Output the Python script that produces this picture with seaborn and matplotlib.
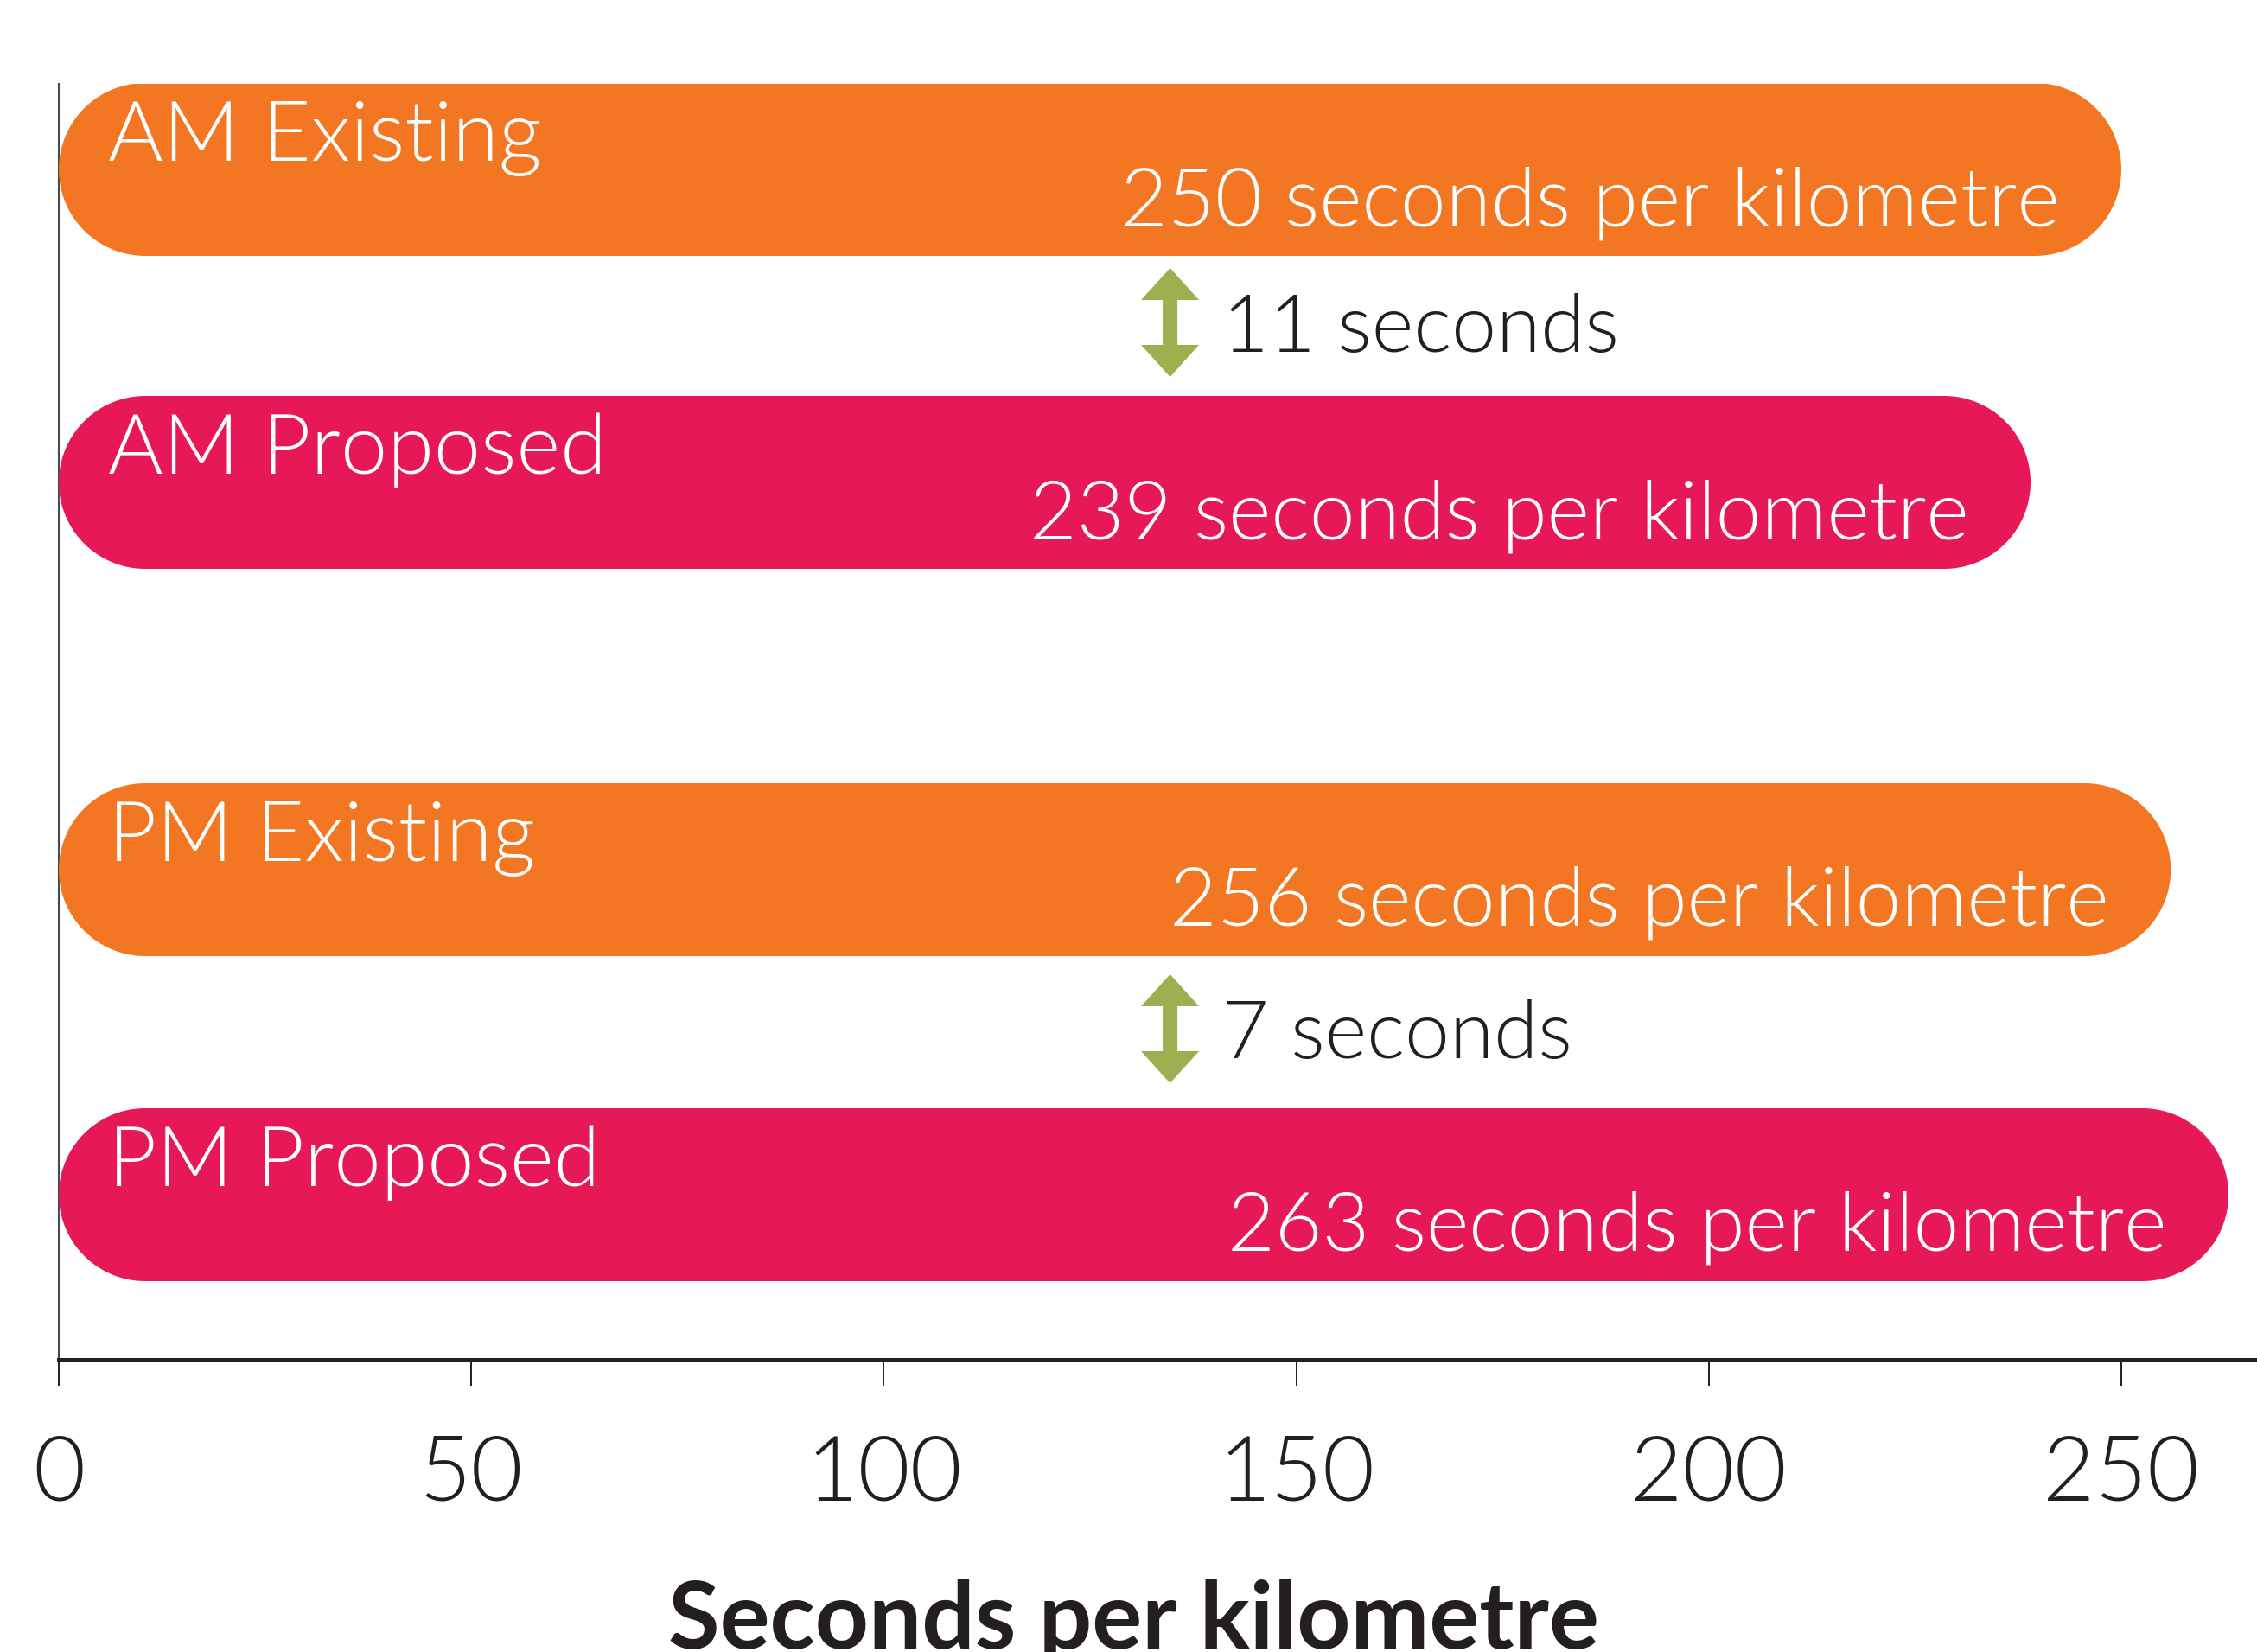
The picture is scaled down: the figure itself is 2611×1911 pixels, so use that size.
"""
plot.py
Travel time per kilometre, existing vs proposed, AM and PM peaks.
"""

import matplotlib
matplotlib.use("Agg")
import matplotlib.pyplot as plt
from matplotlib.patches import Polygon, FancyArrow
import numpy as np
import pandas as pd
import seaborn as sns

# --- data -------------------------------------------------------------
periods = ["AM", "AM", "PM", "PM"]
scenarios = ["Existing", "Proposed", "Existing", "Proposed"]
seconds_per_km = [250, 239, 256, 263]
x_ticks = [0, 50, 100, 150, 200, 250]

# --- styling / layout ---------------------------------------------------
COLORS = {"Existing": "#F37623", "Proposed": "#E61855"}
ARROW_COLOR = "#9BB14F"
TEXT_DARK = "#231F20"
LIGHT = 300  # Lato Light

W, H = 2611, 1911
AX_LEFT, AX_TOP, AX_BOTTOM = 68, 97, 1573      # pixels
ROW_CENTERS = [196, 558, 1006, 1382]             # vertical layout units (= pixels)
BAR_HEIGHT = 200
X_MAX = (W - AX_LEFT) / 9.544

sns.set_style("white")
plt.rcParams["font.family"] = ["Lato", "DejaVu Sans"]

fig = plt.figure(figsize=(W / 100, H / 100), dpi=100)
ax = fig.add_axes([AX_LEFT / W, 1 - AX_BOTTOM / H, 1 - AX_LEFT / W, (AX_BOTTOM - AX_TOP) / H])

df = pd.DataFrame({
    "label": [f"{p} {s}" for p, s in zip(periods, scenarios)],
    "scenario": scenarios,
    "value": seconds_per_km,
    "pos": ROW_CENTERS,
})

spacing = np.min(np.diff(ROW_CENTERS))
sns.barplot(data=df, x="value", y="pos", hue="scenario", palette=COLORS,
            orient="h", native_scale=True, width=BAR_HEIGHT / spacing,
            dodge=False, legend=False, saturation=1, ax=ax)

ax.set_xlim(0, X_MAX)
ax.set_ylim(AX_BOTTOM, AX_TOP)

# pixel size of one data unit in each direction
p0 = ax.transData.transform((0, 0))
px_x = ax.transData.transform((1, 0))[0] - p0[0]
px_y = abs(ax.transData.transform((0, 1))[1] - p0[1])


def pill_points(x0, y0, w, h):
    """Outline of a bar with semicircular ends, in data units."""
    ry = h / 2
    rx = ry * px_y / px_x
    cy = y0 + ry
    t = np.linspace(-np.pi / 2, np.pi / 2, 60)
    right = np.column_stack([x0 + w - rx + rx * np.cos(t), cy + ry * np.sin(t)])
    left = np.column_stack([x0 + rx - rx * np.cos(t), cy - ry * np.sin(t)])
    return np.vstack([right, left])


# turn the seaborn rectangles into pill shapes
for bar in list(ax.patches):
    pts = pill_points(bar.get_x(), bar.get_y(), bar.get_width(), bar.get_height())
    pill = Polygon(pts, closed=True, fc=bar.get_facecolor(), ec="none", zorder=3)
    bar.remove()
    ax.add_patch(pill)

# labels inside bars
for _, row in df.iterrows():
    ax.text(6.0, row["pos"] - 10, row["label"], color="white", fontsize=70,
            fontweight=LIGHT, ha="left", va="baseline", zorder=4)
    ax.text(row["value"] - 7.5, row["pos"] + 65, f"{row['value']} seconds per kilometre",
            color="white", fontsize=68, fontweight=LIGHT, ha="right",
            va="baseline", zorder=4)

# difference arrows between existing and proposed
arrow_x = 134.7
for i in (0, 2):
    gap_top = ROW_CENTERS[i] + BAR_HEIGHT / 2
    gap_bottom = ROW_CENTERS[i + 1] - BAR_HEIGHT / 2
    mid = (gap_top + gap_bottom) / 2 - 4
    half = 63
    for sign in (-1, 1):
        ax.add_patch(FancyArrow(arrow_x, mid, 0, sign * half,
                                width=17 / px_x, head_width=67 / px_x,
                                head_length=37 / px_y, length_includes_head=True,
                                color=ARROW_COLOR, lw=0, zorder=4))
    diff = abs(seconds_per_km[i + 1] - seconds_per_km[i])
    ax.text(141.0, mid + 34, f"{diff} seconds", color=TEXT_DARK, fontsize=67,
            fontweight=LIGHT, ha="left", va="baseline", zorder=4)

# axes
ax.set_xticks(x_ticks)
ax.set_xticklabels([str(t) for t in x_ticks])
ax.tick_params(axis="x", length=21.6, width=1.4, pad=40, labelsize=75,
               colors=TEXT_DARK, direction="out", bottom=True)
for lbl in ax.get_xticklabels():
    lbl.set_fontweight(LIGHT)
ax.tick_params(axis="y", left=False, labelleft=False)
ax.set_ylabel("")
ax.set_xlabel("Seconds per kilometre", fontsize=78, fontweight="bold", color=TEXT_DARK)
ax.xaxis.set_label_coords((1311 - AX_LEFT) / (W - AX_LEFT), (AX_BOTTOM - 1907) / (AX_BOTTOM - AX_TOP))
ax.xaxis.label.set_va("baseline")

sns.despine(ax=ax)
ax.spines["bottom"].set_linewidth(3.6)
ax.spines["bottom"].set_color(TEXT_DARK)
ax.spines["left"].set_linewidth(1.5)
ax.spines["left"].set_color("#4A4A4A")
ax.grid(False)

fig.savefig("out.png", dpi=100)
plt.close()
